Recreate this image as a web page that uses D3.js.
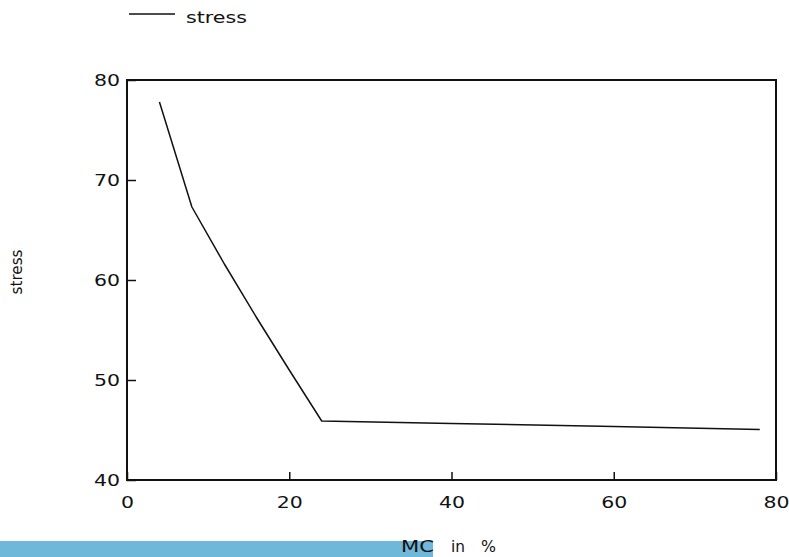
<!DOCTYPE html>
<html>
<head>
<meta charset="utf-8">
<script src="https://cdn.jsdelivr.net/npm/d3@7"></script>
<style>
  html, body { margin: 0; padding: 0; background: #fff; }
  svg { display: block; }
  text { font-family: "DejaVu Sans", sans-serif; fill: #111; }
</style>
</head>
<body>
<script>
// Moisture content (MC, %) and the corresponding stress values
const mc     = [4, 8, 12, 16, 20, 24, 40, 60, 78];
const stress = [77.8, 67.3, 61.6, 56.2, 51.0, 45.9, 45.65, 45.35, 45.05];
const xTicks = [0, 20, 40, 60, 80];
const yTicks = [40, 50, 60, 70, 80];
const seriesName = "stress";
const xTitleParts = ["MC", "in", "%"];

const W = 789, H = 557;
const svg = d3.select("body").append("svg").attr("width", W).attr("height", H);

const x = d3.scaleLinear().domain([0, 80]).range([127, 776]);
const y = d3.scaleLinear().domain([40, 80]).range([480, 80]);

// stretched, wide-set digits for the tick labels
const digitW = 13;
function stretch(sel) {
  sel.attr("textLength", d => String(d).length * digitW)
     .attr("lengthAdjust", "spacingAndGlyphs");
}

// x axis (ticks point inward)
const gx = svg.append("g")
  .attr("transform", `translate(0,${y(40)})`)
  .call(d3.axisBottom(x).tickValues(xTicks).tickSizeInner(-8).tickSizeOuter(0).tickPadding(17));
gx.select(".domain").remove();
gx.selectAll("line").attr("stroke", "#111").attr("stroke-width", 1.5);
gx.selectAll("text").attr("font-size", 16).attr("font-family", "DejaVu Sans").call(stretch);

// y axis
const gy = svg.append("g")
  .attr("transform", `translate(${x(0)},0)`)
  .call(d3.axisLeft(y).tickValues(yTicks).tickSizeInner(-9).tickSizeOuter(0).tickPadding(7));
gy.select(".domain").remove();
gy.selectAll("line").attr("stroke", "#111").attr("stroke-width", 1.5);
gy.selectAll("text").attr("font-size", 16).attr("font-family", "DejaVu Sans").call(stretch);

// plot frame
svg.append("rect")
  .attr("x", x(0)).attr("y", y(80))
  .attr("width", x(80) - x(0)).attr("height", y(40) - y(80))
  .attr("fill", "none").attr("stroke", "#111").attr("stroke-width", 2);

// data line
const line = d3.line().x((d, i) => x(mc[i])).y(d => y(d));
svg.append("path")
  .datum(stress)
  .attr("d", line)
  .attr("fill", "none")
  .attr("stroke", "#111")
  .attr("stroke-width", 1.5)
  .attr("stroke-linejoin", "round");

// legend
svg.append("line")
  .attr("x1", 129).attr("x2", 175).attr("y1", 14).attr("y2", 14)
  .attr("stroke", "#111").attr("stroke-width", 1.5);
svg.append("text")
  .attr("x", 186).attr("y", 23)
  .attr("font-size", 15)
  .attr("textLength", 61).attr("lengthAdjust", "spacingAndGlyphs")
  .text(seriesName);

// y axis title
svg.append("text")
  .attr("transform", "translate(22,272) rotate(-90)")
  .attr("text-anchor", "middle")
  .attr("font-size", 15)
  .attr("textLength", 45).attr("lengthAdjust", "spacingAndGlyphs")
  .text(seriesName);

// highlighted band under the x axis title
svg.append("rect")
  .attr("x", 0).attr("y", 541).attr("width", 433).attr("height", 16)
  .attr("fill", "#6fb8d9");

// x axis title
const titlePos = [[401, 33], [451, 14], [481, 15]];
xTitleParts.forEach((t, i) => {
  svg.append("text")
    .attr("x", titlePos[i][0]).attr("y", 552)
    .attr("font-size", 15)
    .attr("textLength", titlePos[i][1]).attr("lengthAdjust", "spacingAndGlyphs")
    .text(t);
});
</script>
</body>
</html>
